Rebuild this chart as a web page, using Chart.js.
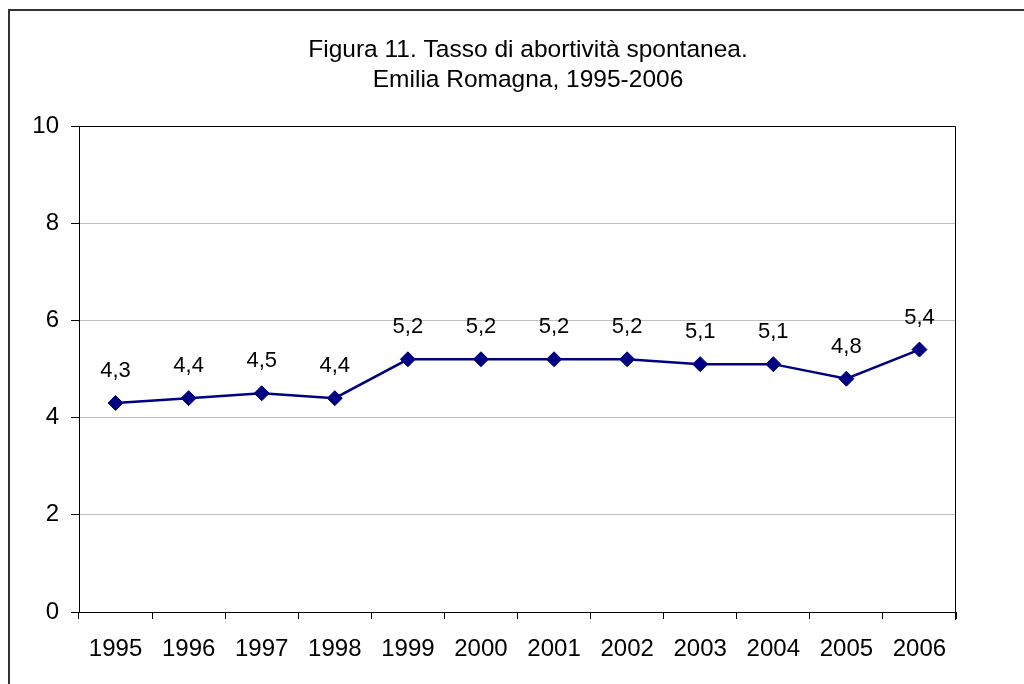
<!DOCTYPE html>
<html>
<head>
<meta charset="utf-8">
<title>Tasso di abortività spontanea</title>
<script src="https://cdn.jsdelivr.net/npm/chart.js@4/dist/chart.umd.min.js"></script>
<style>
  html, body { margin: 0; padding: 0; background: #fff; }
  #wrap { position: relative; width: 1024px; height: 684px; }
</style>
</head>
<body>
<div id="wrap"><canvas id="chart" width="1024" height="684"></canvas></div>
<script>
// Anni e tasso di abortività spontanea (Emilia Romagna)
const years = ['1995', '1996', '1997', '1998', '1999', '2000', '2001', '2002', '2003', '2004', '2005', '2006'];
const rates = [4.3, 4.4, 4.5, 4.4, 5.2, 5.2, 5.2, 5.2, 5.1, 5.1, 4.8, 5.4];
const yTicks = [0, 2, 4, 6, 8, 10];
const titleLines = ['Figura 11. Tasso di abortività spontanea.', 'Emilia Romagna, 1995-2006'];

const FONT = "'Liberation Sans', Arial, sans-serif";
const NAVY = '#000080';
const fmt = v => v.toFixed(1).replace('.', ',');

// White background and the outer frame of the figure
const framePlugin = {
  id: 'frame',
  beforeDraw(chart) {
    const ctx = chart.ctx;
    ctx.save();
    ctx.fillStyle = '#fff';
    ctx.fillRect(0, 0, chart.width, chart.height);
    ctx.strokeStyle = '#333';
    ctx.lineWidth = 2;
    ctx.beginPath();
    ctx.moveTo(9, chart.height);
    ctx.lineTo(9, 10);
    ctx.lineTo(chart.width, 10);
    ctx.stroke();
    ctx.restore();
  }
};

// Two-line title centred above the plot
const titlePlugin = {
  id: 'twoLineTitle',
  afterDraw(chart) {
    const ctx = chart.ctx;
    ctx.save();
    ctx.fillStyle = '#000';
    ctx.font = '24.5px ' + FONT;
    ctx.textAlign = 'center';
    ctx.textBaseline = 'middle';
    ctx.fillText(titleLines[0], 528, 50);
    ctx.fillText(titleLines[1], 528, 80);
    ctx.restore();
  }
};

// Black top and right edges of the plot area
const plotBorderPlugin = {
  id: 'plotBorder',
  beforeDatasetsDraw(chart) {
    const { left, right, top, bottom } = chart.chartArea;
    const ctx = chart.ctx;
    const t = Math.round(top) + 0.5;
    const r = Math.round(right) - 0.5;
    ctx.save();
    ctx.strokeStyle = '#000';
    ctx.lineWidth = 1;
    ctx.beginPath();
    ctx.moveTo(Math.round(left), t);
    ctx.lineTo(r, t);
    ctx.lineTo(r, Math.round(bottom) + 8);
    ctx.stroke();
    ctx.restore();
  }
};

// Value labels above each point
const valueLabelPlugin = {
  id: 'valueLabels',
  afterDatasetsDraw(chart) {
    const ctx = chart.ctx;
    const meta = chart.getDatasetMeta(0);
    ctx.save();
    ctx.fillStyle = '#000';
    ctx.font = '22px ' + FONT;
    ctx.textAlign = 'center';
    ctx.textBaseline = 'middle';
    meta.data.forEach((pt, i) => {
      ctx.fillText(fmt(rates[i]), pt.x, pt.y - 32);
    });
    ctx.restore();
  }
};

new Chart(document.getElementById('chart'), {
  type: 'line',
  data: {
    labels: years,
    datasets: [{
      data: rates,
      borderColor: NAVY,
      backgroundColor: NAVY,
      borderWidth: 2.5,
      pointStyle: 'rectRot',
      pointRadius: 7.5,
      pointHoverRadius: 7.5,
      pointBackgroundColor: NAVY,
      pointBorderColor: NAVY,
      pointBorderWidth: 1,
      tension: 0,
      fill: false
    }]
  },
  options: {
    responsive: false,
    animation: false,
    devicePixelRatio: 1,
    layout: { padding: { left: 0, right: 68, top: 126, bottom: 0 } },
    plugins: {
      legend: { display: false },
      title: { display: false },
      tooltip: { enabled: false }
    },
    scales: {
      x: {
        type: 'category',
        offset: true,
        grid: {
          offset: true,
          drawOnChartArea: false,
          drawTicks: true,
          tickLength: 7,
          tickColor: '#000',
          color: '#000'
        },
        border: { display: true, color: '#000', width: 1 },
        ticks: {
          color: '#000',
          font: { family: FONT, size: 24 },
          padding: 16,
          maxRotation: 0,
          autoSkip: false
        },
        afterFit(scale) { scale.height = 72; }
      },
      y: {
        min: yTicks[0],
        max: yTicks[yTicks.length - 1],
        afterBuildTicks(scale) { scale.ticks = yTicks.map(v => ({ value: v })); },
        grid: {
          color: '#c0c0c0',
          lineWidth: 1,
          drawTicks: true,
          tickLength: 8,
          tickColor: '#000'
        },
        border: { display: true, color: '#000', width: 1 },
        ticks: {
          color: '#000',
          font: { family: FONT, size: 24 },
          padding: 12
        },
        afterFit(scale) { scale.width = 79; }
      }
    }
  },
  plugins: [framePlugin, plotBorderPlugin, valueLabelPlugin, titlePlugin]
});
</script>
</body>
</html>
